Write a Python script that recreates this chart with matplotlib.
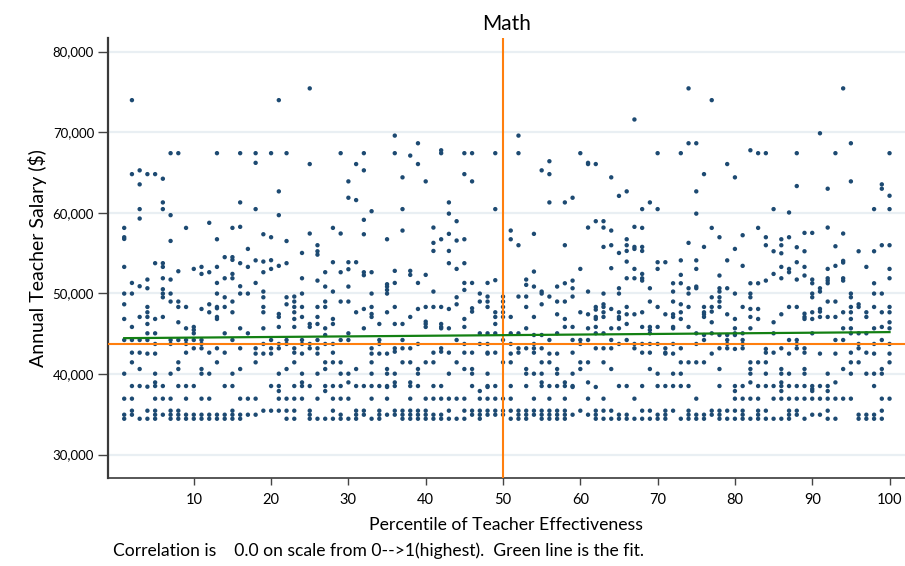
import matplotlib
matplotlib.use("Agg")
import matplotlib.pyplot as plt
from matplotlib.ticker import FuncFormatter

# salaries in $1000s, one inner list per effectiveness percentile (1..100)
sal_01_10 = [
    [58.13, 56.97, 56.76, 53.29, 49.98, 48.65, 46.83, 44.22, 40.04, 36.94, 34.95, 34.45],
    [73.98, 64.8, 51.3, 49.98, 45.84, 44.22, 42.65, 41.45, 38.51, 36.94, 35.45, 34.95],
    [65.27, 63.53, 60.46, 59.29, 50.89, 47.08, 44.22, 42.65, 40.62, 38.51, 34.45],
    [64.8, 51.72, 50.64, 48.32, 47.66, 47.08, 46.21, 45.05, 44.22, 42.53, 38.43, 35.45, 34.45],
    [64.8, 53.75, 46.83, 45.05, 43.73, 42.53, 40.04, 38.96, 38.51, 36.94, 35.45, 34.95, 34.45],
    [64.23, 61.29, 60.46, 53.75, 53.29, 51.88, 50.52, 49.98, 49.52, 47.08, 38.51, 36.94, 34.95],
    [67.4, 59.71, 56.51, 51.72, 49.98, 48.99, 44.22, 43.73, 40.04, 36.94, 35.45, 34.95, 34.45],
    [67.4, 52.75, 48.99, 48.32, 46.42, 44.22, 41.45, 40.62, 38.51, 35.45, 34.95, 34.45],
    [58.13, 48.32, 45.67, 44.22, 43.73, 42.65, 38.51, 36.94, 34.95, 34.45],
    [53.04, 45.84, 45.47, 45.05, 44.22, 43.19, 38.51, 34.95, 34.45],
]
sal_11_20 = [
    [53.29, 52.42, 48.07, 44.22, 43.73, 43.19, 40.62, 40.04, 36.94, 34.95, 34.45],
    [58.76, 52.63, 48.65, 47.66, 42.65, 40.04, 36.94, 34.95, 34.45],
    [67.4, 56.72, 53.29, 51.3, 49.98, 48.32, 48.16, 47.08, 46.83, 43.19, 41.45, 34.95, 34.45],
    [54.5, 51.88, 49.52, 48.32, 45.05, 42.65, 38.51, 34.95, 34.45],
    [58.13, 54.5, 54.16, 52.42, 51.88, 48.99, 47.66, 44.22, 40.04, 38.51, 35.45, 34.95, 34.45],
    [67.4, 61.29, 58.26, 53.75, 50.89, 49.98, 45.67, 43.19, 40.62, 36.94, 34.95, 34.45],
    [55.52, 53.29, 49.98, 45.05, 36.94, 34.95],
    [67.4, 66.2, 60.46, 54.1, 51.3, 43.19, 42.53, 41.45, 36.94, 34.95],
    [57.34, 53.95, 52.63, 50.23, 49.52, 48.32, 47.66, 45.67, 43.73, 42.53, 35.45],
    [67.4, 56.97, 54.12, 53.04, 44.22, 43.19, 42.53, 38.51, 35.45],
]
sal_21_30 = [
    [73.98, 62.66, 59.71, 53.42, 47.45, 47.08, 45.84, 43.73, 43.19, 40.04, 38.51, 37.89, 36.94, 35.45],
    [67.4, 56.5, 53.75, 49.52, 48.65, 44.22, 43.73, 40.62, 36.94, 35.45, 34.45],
    [49.61, 48.99, 48.32, 47.66, 46.83, 45.84, 43.19, 42.65, 41.45, 38.51, 36.94, 35.45, 34.45],
    [55.02, 51.88, 49.98, 48.32, 47.08, 44.22, 43.73, 42.53, 40.04, 38.96, 38.51, 36.94],
    [75.44, 66.05, 57.43, 46.21, 45.84, 43.73, 43.19, 38.51, 35.45, 34.95, 34.45],
    [55.98, 55.23, 54.81, 51.59, 48.32, 47.08, 46.21, 44.22, 43.19, 42.53, 40.04, 36.94, 34.45],
    [52.63, 50.85, 48.99, 48.32, 45.67, 44.84, 43.73, 41.45, 40.62, 38.51, 37.89, 34.45],
    [58.13, 53.87, 50.23, 46.83, 46.21, 43.73, 42.65, 41.45, 38.51, 36.94, 35.45, 34.45],
    [67.4, 57.43, 52.63, 48.99, 44.22, 41.45, 40.04, 38.51, 36.94, 34.95, 34.45],
    [63.9, 61.87, 53.87, 53.0, 50.85, 48.99, 45.05, 44.22, 40.04, 38.96, 36.94, 34.45],
]
sal_31_40 = [
    [66.05, 61.58, 53.87, 47.66, 40.62, 38.51, 35.45, 34.95, 34.45],
    [67.4, 65.27, 59.13, 57.34, 52.63, 52.26, 48.07, 45.67, 38.51, 35.45, 34.95],
    [60.2, 52.63, 49.98, 48.32, 47.45, 47.08, 43.19, 42.53, 41.45, 40.04, 38.51, 36.94, 34.45],
    [46.21, 44.22, 43.73, 42.53, 38.51, 35.45, 34.95, 34.45],
    [56.72, 51.14, 50.85, 50.43, 49.98, 47.66, 42.53, 40.62, 40.04, 38.51, 38.39, 36.94, 34.95],
    [69.58, 67.4, 52.8, 51.3, 48.32, 46.21, 43.19, 42.77, 40.04, 38.96, 38.51, 35.45, 34.95],
    [64.4, 60.46, 57.8, 46.21, 44.22, 43.19, 41.45, 35.45, 34.95, 34.45],
    [67.1, 52.8, 52.3, 47.08, 43.19, 41.45, 38.96, 38.51, 36.94, 35.45, 34.95, 34.45],
    [68.63, 66.05, 51.3, 48.07, 43.73, 40.62, 40.04, 38.51, 35.45, 34.95, 34.45],
    [63.9, 52.3, 48.32, 46.5, 46.21, 45.84, 41.45, 36.94, 35.45, 34.95, 34.45],
]
sal_41_50 = [
    [58.17, 56.27, 55.27, 50.23, 48.32, 42.65, 41.45, 38.51, 36.94, 34.95, 34.45],
    [67.76, 67.4, 56.72, 48.32, 46.21, 45.84, 45.67, 43.19, 42.77, 38.51, 36.94, 34.95, 34.45],
    [61.29, 59.9, 57.39, 55.27, 53.75, 48.07, 45.67, 42.65, 40.04, 36.94, 35.45, 34.45],
    [58.96, 56.56, 53.04, 49.52, 48.65, 44.22, 41.45, 36.94, 34.45],
    [67.4, 64.8, 56.72, 53.75, 51.3, 50.43, 46.83, 45.84, 43.73, 42.65, 40.62, 36.94, 35.45, 34.45],
    [67.4, 63.9, 51.3, 48.16, 47.74, 42.65, 40.62, 40.04, 38.51, 35.45, 34.95],
    [49.98, 48.99, 45.05, 43.73, 37.89, 36.94, 35.45, 34.95, 34.45],
    [51.3, 49.61, 48.99, 48.32, 45.05, 43.73, 42.65, 42.53, 40.04, 38.51, 38.39, 36.94, 35.45, 34.95],
    [67.4, 60.46, 51.64, 47.66, 47.08, 46.21, 45.05, 42.65, 38.51, 36.94, 35.45, 34.95],
    [49.61, 48.99, 48.32, 47.66, 47.08, 44.22, 41.45, 36.94, 35.45, 34.95],
]
sal_51_60 = [
    [57.8, 56.72, 47.08, 45.05, 43.73, 42.53, 41.45, 38.51, 36.94, 35.45, 34.45],
    [69.58, 67.4, 55.98, 49.61, 45.05, 43.19, 42.65, 35.45, 34.95, 34.45],
    [51.72, 51.06, 49.61, 48.32, 45.67, 43.19, 40.62, 40.04, 38.51, 35.45, 34.95, 34.45],
    [57.39, 52.71, 50.85, 47.08, 44.84, 43.73, 43.19, 42.65, 40.04, 36.94, 35.45, 34.95],
    [65.27, 50.23, 49.98, 48.65, 44.84, 43.19, 41.45, 40.04, 38.96, 38.51, 35.45, 34.95, 34.45],
    [66.4, 64.8, 61.29, 49.61, 44.22, 42.53, 41.45, 38.51, 36.94, 35.45, 34.95, 34.45],
    [50.85, 48.99, 47.41, 45.05, 42.53, 40.62, 40.04, 38.51, 35.45, 34.95, 34.45],
    [61.29, 55.98, 51.26, 48.99, 46.83, 45.84, 38.96, 38.51, 36.94, 35.45, 34.95, 34.45],
    [61.87, 51.59, 50.64, 49.61, 45.84, 44.22, 42.65, 40.04, 38.51, 38.39, 34.95],
    [67.4, 53.04, 47.66, 44.22, 43.73, 41.45, 40.62, 35.45],
]
sal_61_70 = [
    [66.2, 66.05, 58.17, 50.23, 47.41, 45.67, 44.22, 41.45, 38.96, 36.94, 34.95],
    [66.05, 58.96, 48.32, 47.99, 47.08, 46.83, 45.84, 45.05, 43.19, 38.39, 35.45, 34.95, 34.45],
    [58.96, 58.17, 55.77, 49.98, 48.65, 48.32, 47.66, 47.08, 45.05, 43.19, 41.45, 36.94, 35.45, 34.45],
    [64.4, 57.8, 55.98, 53.13, 48.07, 45.67, 44.22, 43.19, 40.62, 35.45, 34.45],
    [62.1, 55.02, 50.64, 49.98, 47.66, 47.08, 46.83, 45.67, 43.73, 38.51, 34.95, 34.45],
    [62.66, 56.72, 55.98, 55.27, 53.95, 51.88, 48.32, 47.41, 46.21, 44.22, 38.51, 34.95, 34.45],
    [71.58, 58.26, 55.77, 55.52, 53.04, 51.88, 47.41, 43.73, 43.19, 36.94, 34.45],
    [60.46, 58.13, 55.77, 55.27, 52.42, 51.88, 51.59, 47.66, 45.84, 43.73, 42.65, 38.51, 35.45, 34.45],
    [61.29, 50.64, 48.99, 45.84, 45.47, 45.05, 43.73, 42.65, 40.62, 35.45, 34.45],
    [67.4, 60.46, 53.87, 53.04, 48.32, 45.84, 43.73, 40.04, 38.51, 34.95, 34.45],
]
sal_71_80 = [
    [53.87, 47.41, 43.19, 42.65, 42.53, 38.51, 35.45, 34.95, 34.45],
    [51.26, 50.23, 48.99, 47.41, 47.08, 45.84, 45.67, 43.73, 42.53, 40.04, 38.51, 35.45],
    [67.4, 54.1, 52.3, 51.26, 48.65, 47.66, 46.83, 43.19, 41.45, 40.04, 38.51, 34.45],
    [75.44, 68.63, 56.27, 50.64, 49.98, 48.32, 45.84, 41.45, 38.51, 35.45, 34.95, 34.45],
    [68.63, 62.66, 59.9, 54.1, 53.04, 50.85, 50.64, 45.05, 43.73, 41.45, 36.94, 34.95, 34.45],
    [64.8, 55.77, 48.32, 47.66, 47.41, 47.08, 44.84, 44.22, 41.45, 34.95, 34.45],
    [73.98, 58.13, 49.52, 48.32, 47.74, 46.42, 45.05, 42.53, 35.45, 34.95],
    [56.97, 52.22, 50.64, 50.23, 49.52, 48.99, 48.32, 44.84, 43.19, 40.62, 38.51, 35.45, 34.95, 34.45],
    [66.05, 54.1, 50.64, 47.41, 44.84, 44.22, 43.73, 43.19, 35.45, 34.45],
    [64.4, 55.52, 49.98, 46.83, 45.67, 45.05, 44.84, 43.11, 38.51, 37.89, 36.94, 35.45, 34.45],
]
sal_81_90 = [
    [57.22, 53.42, 48.32, 45.05, 44.22, 43.73, 43.19, 38.51, 36.94, 35.45, 34.95, 34.45],
    [67.76, 51.26, 49.98, 49.52, 48.07, 47.08, 45.67, 41.45, 40.62, 40.04, 38.96, 36.94, 34.45],
    [67.4, 58.13, 51.26, 48.07, 46.83, 41.45, 38.51, 36.94, 35.45, 34.95, 34.45],
    [67.4, 56.97, 55.98, 51.59, 43.11, 42.65, 41.45, 40.04, 38.51, 35.45, 34.45],
    [60.46, 55.23, 52.42, 46.42, 45.05, 42.65, 38.51, 36.94, 34.45],
    [56.72, 55.98, 54.98, 53.29, 51.88, 47.41, 43.19, 40.62, 40.04, 38.96, 38.51, 37.89, 36.94, 34.45],
    [60.04, 56.97, 53.04, 52.63, 48.32, 44.22, 42.53, 40.04, 38.51, 36.94, 35.45, 34.95, 34.45],
    [67.4, 63.32, 55.73, 53.87, 51.72, 48.32, 44.22, 43.73, 43.19, 38.51, 36.94, 35.45, 34.95],
    [57.51, 55.23, 53.29, 52.22, 47.49, 47.08, 46.83, 43.19, 42.65, 40.62, 40.04, 38.51, 36.94, 34.45],
    [57.51, 51.72, 51.26, 49.98, 49.52, 47.66, 46.83, 45.05, 38.51, 38.14, 37.89, 36.94, 34.95],
]
sal_91_100 = [
    [69.87, 50.64, 50.23, 48.07, 47.74, 47.08, 42.53, 38.51, 36.94, 34.95],
    [62.99, 58.17, 53.04, 51.88, 51.59, 51.26, 48.99, 47.08, 40.04, 38.51, 37.89, 36.94, 35.45, 34.45],
    [67.4, 55.85, 53.42, 48.99, 47.08, 44.22, 42.53, 38.96, 36.94, 34.45],
    [75.44, 57.43, 54.04, 53.83, 51.88, 51.59, 47.66, 45.67, 44.22, 40.62, 36.94],
    [68.63, 63.9, 49.98, 49.52, 48.32, 47.66, 46.83, 45.67, 45.05, 42.65, 41.45, 40.04, 36.94],
    [55.23, 48.65, 48.32, 45.05, 43.73, 43.19, 41.45, 34.95, 34.45],
    [53.29, 47.66, 47.08, 45.05, 42.65, 40.04, 34.95, 34.45],
    [60.46, 55.23, 51.26, 49.98, 48.32, 45.67, 43.73, 42.53, 40.04, 38.51, 34.95, 34.45],
    [63.53, 62.99, 55.98, 49.98, 47.66, 45.84, 44.22, 40.62, 40.04, 36.94, 35.45, 34.45],
    [67.4, 62.12, 60.46, 55.98, 53.04, 51.88, 48.32, 47.66, 46.42, 45.67, 43.73, 42.53, 41.45, 36.94],
]

# reference lines
median_pct = 50
avg_salary_k = 43.73
fit_pct = [1, 100]
fit_salary_k = [44.45, 45.2]
correlation = 0.0

columns = (sal_01_10 + sal_11_20 + sal_21_30 + sal_31_40 + sal_41_50 +
           sal_51_60 + sal_61_70 + sal_71_80 + sal_81_90 + sal_91_100)
xs, ys = [], []
for pct, vals in enumerate(columns, start=1):
    xs += [pct] * len(vals)
    ys += vals

plt.rcParams['font.family'] = ['Lato', 'DejaVu Sans']

fig = plt.figure(figsize=(9.05, 5.66), dpi=100)
ax = fig.add_axes([0.1193, 0.1555, 0.8807, 0.7775])

ax.set_xlim(-1.1, 102)
ax.set_ylim(27.1, 81.7)

for v in range(30, 81, 10):
    ax.axhline(v, color='#e9eff3', lw=1.6, zorder=0)

ax.scatter(xs, ys, s=10, color='#1d4a72', edgecolors='none', zorder=3)

ax.axvline(median_pct, color='#ff7f0e', lw=1.5, zorder=4)
ax.axhline(avg_salary_k, color='#ff7f0e', lw=1.5, zorder=4)
ax.plot(fit_pct, fit_salary_k, color='#138013', lw=1.6, zorder=5)

ax.set_xticks(range(10, 101, 10))
ax.set_yticks(range(30, 81, 10))
ax.yaxis.set_major_formatter(FuncFormatter(lambda v, _: f"{v * 1000:,.0f}"))
ax.tick_params(axis='y', length=7, width=1, color='#444444', labelsize=9.5, pad=3)
ax.tick_params(axis='x', length=5, width=1, color='#444444', labelsize=10.5, pad=6)

for side in ('top', 'right'):
    ax.spines[side].set_visible(False)
ax.spines['left'].set_color('#3a3a3a')
ax.spines['left'].set_linewidth(1.6)
ax.spines['bottom'].set_color('#3a3a3a')
ax.spines['bottom'].set_linewidth(1.2)

ax.set_title("Math", fontsize=15, pad=6)
ax.set_ylabel("Annual Teacher Salary ($)", fontsize=14, labelpad=4)
ax.set_xlabel("Percentile of Teacher Effectiveness", fontsize=12.7, labelpad=7)

fig.text(0.125, 0.012,
         f"Correlation is    {correlation:.1f} on scale from 0-->1(highest).  Green line is the fit.",
         fontsize=12.6, ha='left', va='bottom')

fig.savefig("out.png", dpi=100)
